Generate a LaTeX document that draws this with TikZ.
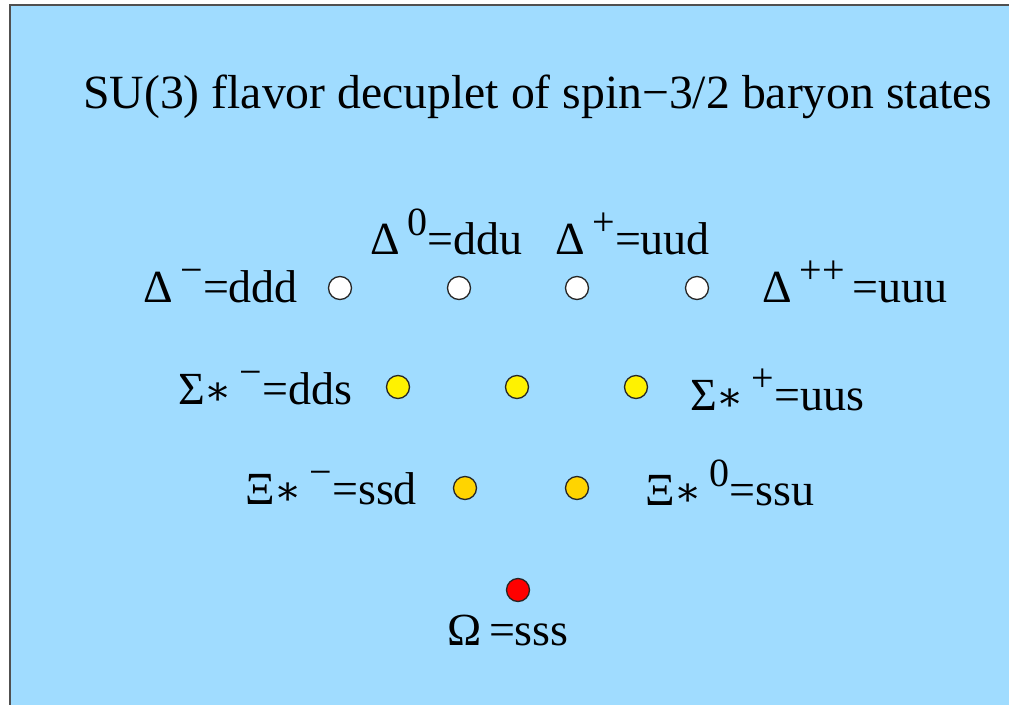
\documentclass[tikz,border=0pt]{standalone}
\usepackage{fontspec}
\setmainfont{Liberation Serif}
\newfontfamily\symf{DejaVu Serif}
\definecolor{bgblue}{RGB}{160,220,255}
\definecolor{framegray}{RGB}{80,80,80}
\definecolor{gold}{RGB}{255,212,0}
\newcommand{\upr}[1]{\raisebox{0.40em}{\fontsize{40}{40}\selectfont #1}}
\newcommand{\astk}{{\symf\fontsize{40}{40}\selectfont ∗}}
\begin{document}
\begin{tikzpicture}[x=1pt,y=-1pt,
  lbl/.style={anchor=base west,inner sep=0pt,font=\fontsize{46}{50}\selectfont},
  dot/.style={circle,draw=black!85,line width=1.3pt,minimum size=23pt,inner sep=0pt},
  ttl/.style={anchor=base west,inner sep=0pt,font=\fontsize{47.7}{52}\selectfont}]
\useasboundingbox (0,0) rectangle (1009,704);
\clip (0,0) rectangle (1009,704);
\draw[fill=bgblue,draw=framegray,line width=2pt] (10,5) rectangle (1020,720);
\node[ttl] (title) at (83,108) {SU(3) flavor decuplet of spin−3/2 baryon states};
% Delta row
\node[dot,fill=white] (d1) at (340,288) {};
\node[dot,fill=white] (d2) at (459,288) {};
\node[dot,fill=white] (d3) at (577,288) {};
\node[dot,fill=white] (d4) at (697,288) {};
\node[lbl] (ld1) at (143,302) {Δ\,\upr{−}=ddd};
\node[lbl] (ld2) at (370,254) {Δ\,\upr{0}=ddu};
\node[lbl] (ld3) at (555,254) {Δ\,\upr{+}=uud};
\node[lbl] (ld4) at (762,302) {Δ\,\upr{++}\,=uuu};
% Sigma row
\node[dot,fill=yellow] (s1) at (398,387) {};
\node[dot,fill=yellow] (s2) at (517,387) {};
\node[dot,fill=yellow] (s3) at (636,387) {};
\node[lbl] (ls1) at (178,404) {Σ\astk\,\upr{−}=dds};
\node[lbl] (ls3) at (690,410) {Σ\astk\,\upr{+}=uus};
% Xi row
\node[dot,fill=gold] (x1) at (465,488) {};
\node[dot,fill=gold] (x2) at (577,488) {};
\node[lbl] (lx1) at (245,504) {Ξ\astk\,\upr{−}=ssd};
\node[lbl] (lx2) at (645,505) {Ξ\astk\,\upr{0}=ssu};
% Omega
\node[dot,fill=red] (o) at (518,590) {};
\node[lbl] (lo) at (447,645) {Ω\,=sss};
\end{tikzpicture}
\end{document}
